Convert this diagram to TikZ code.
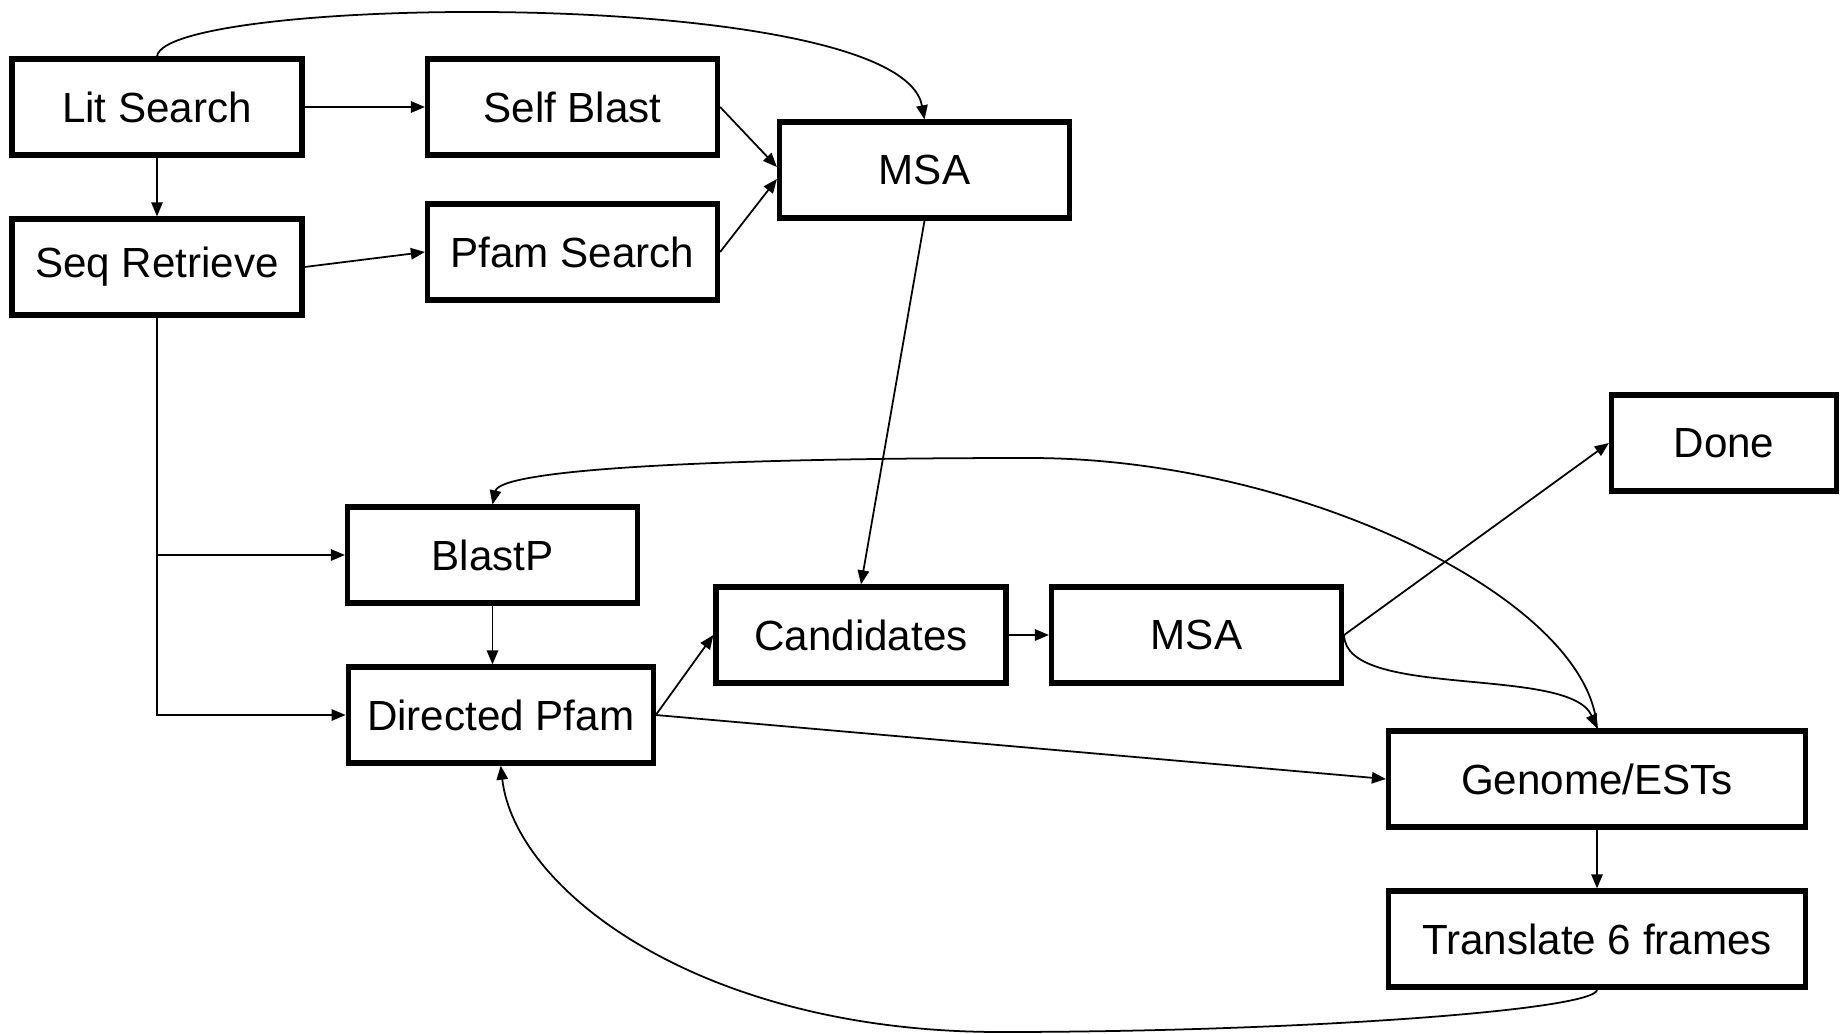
\documentclass[tikz,border=0pt]{standalone}
\usepackage{fontspec}
\setmainfont{Liberation Sans}
\usetikzlibrary{arrows.meta,calc}
\begin{document}
\begin{tikzpicture}[x=0.02cm,y=-0.02cm,
  box/.style={draw,line width=3pt,inner sep=0pt,minimum height=1.92cm,
    minimum width=5.8cm,font=\fontsize{24}{28}\selectfont},
  link/.style={line width=1pt,-{Triangle[length=8pt,width=6.5pt]}},
  plain/.style={line width=1pt}]
\useasboundingbox (0,0) rectangle (1843,1034);

% process boxes
\node[box] (lit)  at (157,107)   {Lit Search};
\node[box] (self) at (572.5,107) {Self Blast};
\node[box] (msa)  at (924.5,170) {MSA};
\node[box] (seq)  at (157,267)   {Seq Retrieve};
\node[box] (pfam) at (572.5,252) {Pfam Search};
\node[box] (bp)   at (492.5,555) {BlastP};
\node[box,minimum width=6.1cm] (dp) at (500.7,715) {Directed Pfam};
\node[box] (cand) at (861,635)   {Candidates};
\node[box] (msab) at (1196.5,635) {MSA};
\node[box,minimum width=4.5cm] (done) at (1724,443) {Done};
\node[box,minimum width=8.34cm] (gen) at (1597,779) {Genome/ESTs};
\node[box,minimum width=8.34cm] (tr)  at (1597,939) {Translate 6 frames};

% straight connectors
\draw[link] (lit.east) -- (self.west);
\draw[link] (lit.south) -- (seq.north);
\draw[link] (seq.east) -- (pfam.west);
\draw[link] (self.east) -- ($(msa.west)+(0,-3)$);
\draw[link] (pfam.east) -- ($(msa.west)+(0,9)$);
\draw[link] (msa.south) -- (cand.north);
\draw[link] (seq.south) |- (bp.west);
\draw[link] (seq.south) |- (dp.west);
\draw[link] (bp.south) -- (bp.south |- dp.north);
\draw[link] (dp.east) -- (cand.west);
\draw[link] (dp.east) -- (gen.west);
\draw[link] (cand.east) -- (msab.west);
\draw[link] (msab.east) -- (done.west);
\draw[link] (gen.south) -- (tr.north);

% curved connectors
\draw[link] (lit.north) .. controls (165,-5) and (900,-15) .. (msa.north);
\draw[link] (msab.east) .. controls (1345,700) and (1570,665) .. (gen.north);
\draw[link] (gen.north) .. controls (1590,600) and (1300,458) .. (1030,458)
  .. controls (700,458) and (500,470) .. (bp.north);
\draw[link] (tr.south) .. controls (1597,1010) and (1300,1032) .. (1000,1032)
  .. controls (700,1032) and (515,890) .. (dp.south);
\end{tikzpicture}
\end{document}
